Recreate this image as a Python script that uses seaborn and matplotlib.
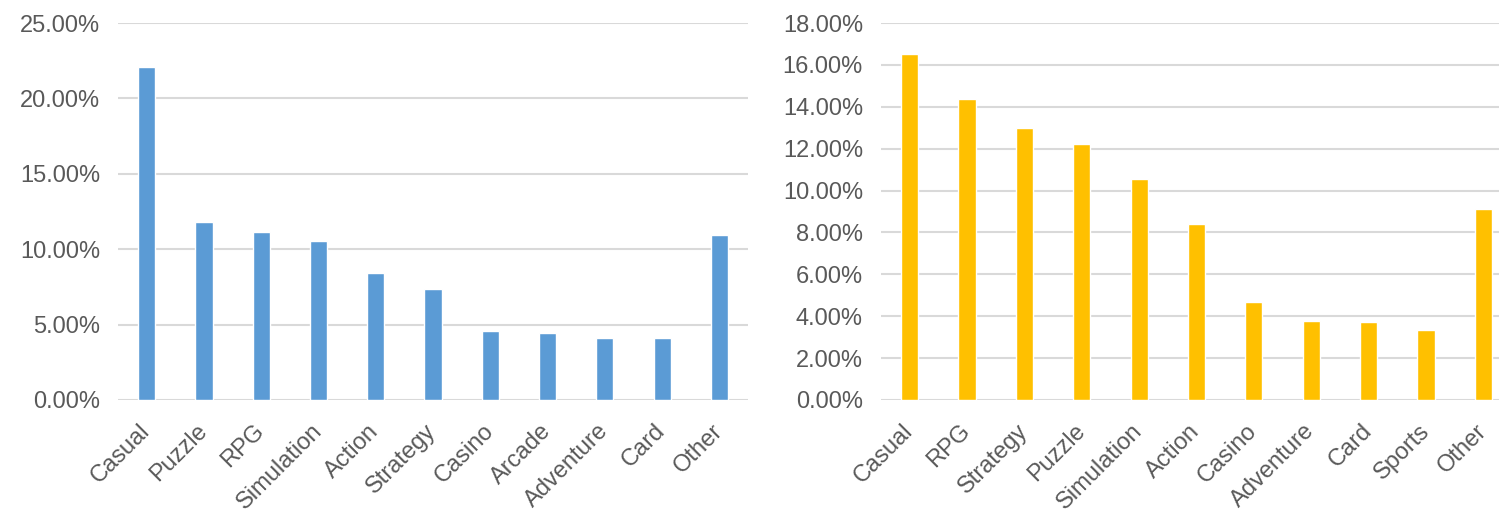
import matplotlib
matplotlib.use("Agg")
import matplotlib.pyplot as plt
import seaborn as sns
import pandas as pd
from matplotlib.ticker import FuncFormatter, MultipleLocator

# Genre share, first market (blue)
genres_a = ["Casual", "Puzzle", "RPG", "Simulation", "Action", "Strategy",
            "Casino", "Arcade", "Adventure", "Card", "Other"]
share_a = [22.05, 11.82, 11.16, 10.56, 8.41, 7.39, 4.57, 4.41, 4.10, 4.10, 10.96]

# Genre share, second market (yellow)
genres_b = ["Casual", "RPG", "Strategy", "Puzzle", "Simulation", "Action",
            "Casino", "Adventure", "Card", "Sports", "Other"]
share_b = [16.50, 14.38, 13.00, 12.20, 10.54, 8.39, 4.70, 3.75, 3.72, 3.35, 9.12]

sns.set_theme(style="white")
plt.rcParams["font.family"] = ["Liberation Sans", "DejaVu Sans"]

W, H = 1499, 515
fig = plt.figure(figsize=(W / 100, H / 100), dpi=100)
fig.patch.set_facecolor("white")

TEXT = "#595959"
GRID = "#D9D9D9"
pct = FuncFormatter(lambda v, _: f"{v:.2f}%")


def panel(rect, cats, vals, color, ymax, step):
    ax = fig.add_axes(rect)
    df = pd.DataFrame({"genre": cats, "share": vals})
    sns.barplot(data=df, x="genre", y="share", color=color, width=0.3,
                saturation=1, ax=ax, zorder=3)
    ax.set_ylim(0, ymax)
    ax.set_xlim(-0.5, len(cats) - 0.5)
    ax.yaxis.set_major_locator(MultipleLocator(step))
    ax.yaxis.set_major_formatter(pct)
    ax.grid(axis="y", color=GRID, linewidth=1.5, zorder=0)
    ax.grid(axis="x", visible=False)
    for s in ax.spines.values():
        s.set_visible(False)
    ax.set_xlabel("")
    ax.set_ylabel("")
    ax.tick_params(axis="both", length=0, labelsize=17, colors=TEXT)
    ax.tick_params(axis="y", pad=13)
    ax.tick_params(axis="x", pad=20)
    for lab in ax.get_xticklabels():
        lab.set_rotation(45)
        lab.set_ha("right")
        lab.set_va("center")
        lab.set_rotation_mode("anchor")
    ax.set_facecolor("white")
    return ax


bottom = 1 - 400 / H
height = (400 - 23) / H
panel([118 / W, bottom, 630 / W, height], genres_a, share_a, "#5B9BD5", 25, 5)
panel([881 / W, bottom, 631 / W, height], genres_b, share_b, "#FFC000", 18, 2)

fig.savefig("out.png", dpi=100, facecolor="white")
